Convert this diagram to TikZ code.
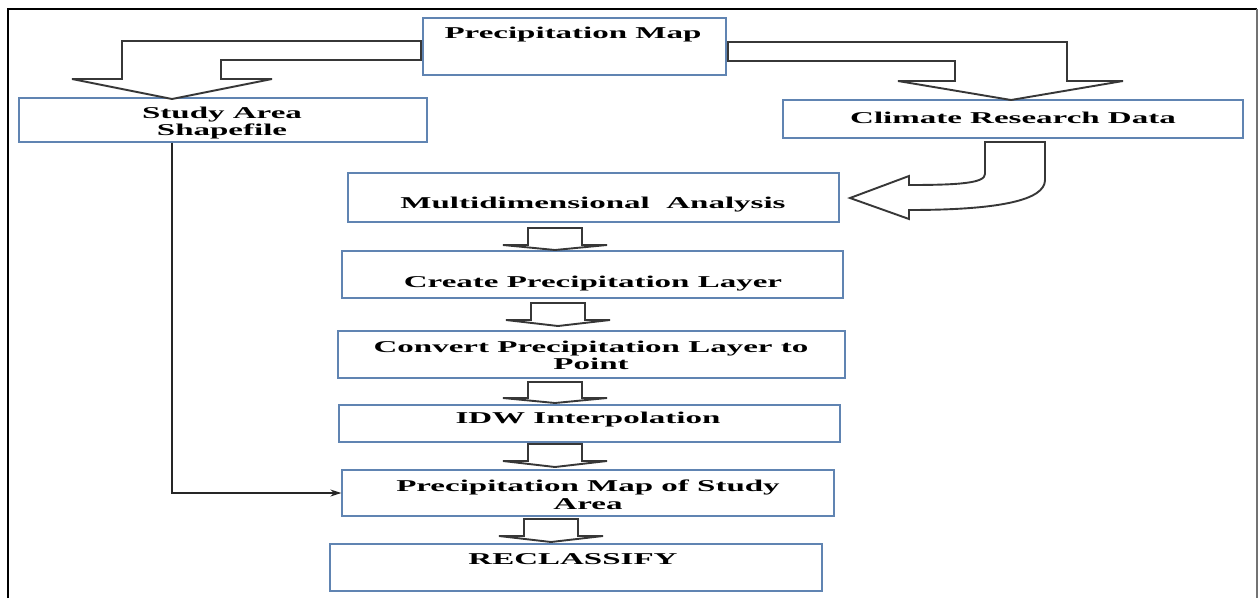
\documentclass[tikz,border=0pt]{standalone}
\usepackage{fontspec}
\newfontfamily\wfont{Liberation Serif}[FakeStretch=2.0]
\usetikzlibrary{arrows.meta}
\definecolor{boxblue}{RGB}{96,132,178}
\definecolor{arrgray}{RGB}{55,55,55}
\begin{document}
\begin{tikzpicture}[x=1pt,y=-1pt,
  box/.style={draw=boxblue,line width=1.3pt,fill=white,inner sep=0pt,rectangle},
  txt/.style={inner sep=0pt,align=center,text=black,font=\wfont\bfseries\fontsize{16.5}{17.5}\selectfont},
  harr/.style={draw=arrgray,line width=1.9pt,fill=white,line join=miter},
  conn/.style={draw=black!85,line width=1.3pt,-{Stealth[length=11pt,width=7pt]}}]
\useasboundingbox (0,0) rectangle (1259,598);
\fill[white] (0,0) rectangle (1259,598);
% outer frame
\draw[black,line width=2.8pt] (8,598) -- (8,9) -- (1257,9);
\draw[black!55,line width=1.4pt] (1257,9) -- (1257,598);

% boxes
\node[box,minimum width=303pt,minimum height=57pt] (pm) at (574.5,46.5) {};
\node[box,minimum width=408pt,minimum height=44pt] (study) at (223,120) {};
\node[box,minimum width=460pt,minimum height=38pt] (climate) at (1013,119) {};
\node[box,minimum width=491pt,minimum height=49pt] (multi) at (593.5,197.5) {};
\node[box,minimum width=501pt,minimum height=47pt] (create) at (592.5,274.5) {};
\node[box,minimum width=507pt,minimum height=47pt] (convert) at (591.5,354.5) {};
\node[box,minimum width=501pt,minimum height=37pt] (idw) at (589.5,423.5) {};
\node[box,minimum width=492pt,minimum height=46pt] (pmsa) at (588,493) {};
\node[box,minimum width=492pt,minimum height=47pt] (recl) at (576,567.5) {};

% texts
\node[txt] (pmt) at (573,35) {Precipitation Map};
\node[txt] (studyt) at (222,123) {Study Area\\Shapefile};
\node[txt] (climatet) at (1013,118) {Climate Research Data};
\node[txt] (multit) at (593,205) {Multidimensional\hspace{0.5em} Analysis};
\node[txt] (createt) at (593,284) {Create Precipitation Layer};
\node[txt] (convertt) at (591,355.5) {Convert Precipitation Layer to\\Point};
\node[txt] (idwt) at (588,420) {IDW Interpolation};
\node[txt] (pmsat) at (588,495) {Precipitation Map of Study\\Area};
\node[txt] (reclt) at (573,559) {RECLASSIFY};

% big hollow arrows from Precipitation Map
\filldraw[harr] (421,41) -- (122,41) -- (122,79) -- (72,79) -- (172,99) -- (272,79) -- (221,79) -- (221,60) -- (421,60) -- cycle;
\filldraw[harr] (728,42) -- (1067,42) -- (1067,81) -- (1123,81) -- (1011,100) -- (898,81) -- (955,81) -- (955,61) -- (728,61) -- cycle;

% curved hollow arrow from Climate Research Data to Multidimensional Analysis
\filldraw[harr] (985,142) -- (985,174) .. controls (985,183) and (960,185) .. (909,185)
  -- (909,176) -- (850,198) -- (909,219) -- (909,210)
  .. controls (1000,210) and (1045,200) .. (1045,180) -- (1045,142) -- cycle;

% small hollow down arrows
\newcommand\hdown[4]{%
  \filldraw[harr] ({#1-27},#2) -- ({#1+27},#2) -- ({#1+27},#3) -- ({#1+52},#3) -- (#1,#4) -- ({#1-52},#3) -- ({#1-27},#3) -- cycle;}
\hdown{555}{228}{245}{250}
\hdown{558}{303}{320}{326}
\hdown{555}{382}{398}{403}
\hdown{555}{444}{461}{467}
\hdown{551}{519}{536}{542}

% connector from Study Area to Precipitation Map of Study Area
\coordinate (bend) at (172,493);
\draw[conn] (study.south -| bend) |- (pmsa.west);
\end{tikzpicture}
\end{document}
